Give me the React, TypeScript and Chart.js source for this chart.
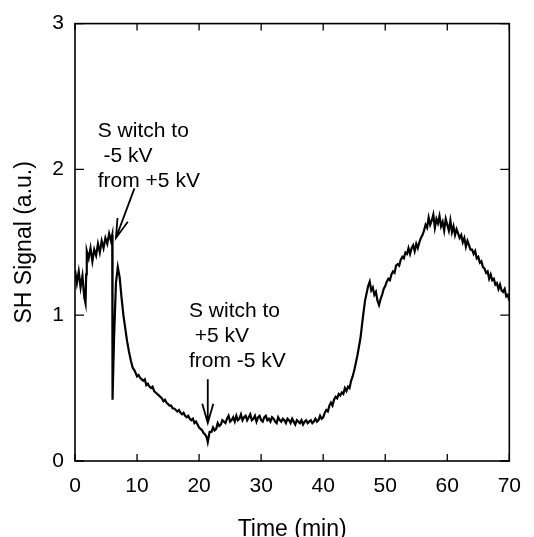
import React, { useEffect, useRef } from "react";
import { Chart, registerables } from "chart.js";

Chart.register(...registerables);

// Time (min)
const times = [
  0, 0.3, 0.6, 0.9, 1.2, 1.5, 1.7, 1.8, 1.9, 2.2,
  2.5, 2.8, 3.1, 3.4, 3.7, 4.0, 4.3, 4.6, 4.9, 5.2,
  5.5, 5.8, 6.0, 6.05, 6.3, 6.6, 6.9, 7.2, 7.5, 7.8,
  8.1, 8.4, 8.7, 9.0, 9.3, 9.6,
  10, 10.25, 10.5, 10.75, 11, 11.25, 11.5, 11.75,
  12, 12.25, 12.5, 12.75, 13, 13.25, 13.5, 13.75,
  14, 14.25, 14.5, 14.75, 15, 15.25, 15.5, 15.75,
  16, 16.25, 16.5, 16.75, 17, 17.25, 17.5, 17.75,
  18, 18.25, 18.5, 18.75, 19, 19.25, 19.5, 19.75,
  20, 20.25, 20.5, 20.75, 21, 21.25, 21.4, 21.7,
  22, 22.25, 22.5, 22.75, 23, 23.25, 23.5, 23.75,
  24, 24.25, 24.5, 24.75, 25, 25.25, 25.5, 25.75,
  26, 26.25, 26.5, 26.75, 27, 27.25, 27.5, 27.75,
  28, 28.25, 28.5, 28.75, 29, 29.25, 29.5, 29.75,
  30, 30.25, 30.5, 30.75, 31, 31.25, 31.5, 31.75,
  32, 32.25, 32.5, 32.75, 33, 33.25, 33.5, 33.75,
  34, 34.25, 34.5, 34.75, 35, 35.25, 35.5, 35.75,
  36, 36.25, 36.5, 36.75, 37, 37.25, 37.5, 37.75,
  38, 38.25, 38.5, 38.75, 39, 39.25, 39.5, 39.75,
  40, 40.25, 40.5, 40.75, 41, 41.25, 41.5, 41.75,
  42, 42.25, 42.5, 42.75, 43, 43.25, 43.5, 43.75,
  44, 44.25, 44.5, 44.75, 45, 45.25, 45.5, 45.75,
  46, 46.25, 46.5, 46.75, 47, 47.25, 47.5, 47.75,
  48, 48.25, 48.5, 48.75, 49, 49.25, 49.5, 49.75,
  50, 50.25, 50.5, 50.75, 51, 51.25, 51.5, 51.75,
  52, 52.25, 52.5, 52.75, 53, 53.25, 53.5, 53.75,
  54, 54.25, 54.5, 54.75, 55, 55.25, 55.5, 55.75,
  56, 56.25, 56.5, 56.75, 57, 57.25, 57.5, 57.75,
  58, 58.25, 58.5, 58.75, 59, 59.25, 59.5, 59.75,
  60, 60.25, 60.5, 60.75, 61, 61.25, 61.5, 61.75,
  62, 62.25, 62.5, 62.75, 63, 63.25, 63.5, 63.75,
  64, 64.25, 64.5, 64.75, 65, 65.25, 65.5, 65.75,
  66, 66.25, 66.5, 66.75, 67, 67.25, 67.5, 67.75,
  68, 68.25, 68.5, 68.75, 69, 69.25, 69.5, 69.75,
  70,
];

// SH Signal (a.u.)
const signal = [
  1.31, 1.22, 1.30, 1.19, 1.27, 1.12, 1.08, 1.28, 1.44, 1.39,
  1.46, 1.37, 1.45, 1.41, 1.49, 1.43, 1.51, 1.46, 1.53, 1.49,
  1.56, 1.51, 1.55, 0.42, 0.85, 1.22, 1.33, 1.26, 1.12, 1.00,
  0.91, 0.82, 0.75, 0.69, 0.64, 0.62,
  0.58, 0.59, 0.57, 0.56, 0.55, 0.56, 0.52, 0.53,
  0.51, 0.50, 0.51, 0.48, 0.47, 0.46, 0.45, 0.44,
  0.43, 0.41, 0.42, 0.40, 0.39, 0.38, 0.38, 0.36,
  0.36, 0.35, 0.34, 0.35, 0.33, 0.32, 0.33, 0.31,
  0.30, 0.31, 0.29, 0.28, 0.29, 0.26, 0.27, 0.25,
  0.23, 0.22, 0.21, 0.19, 0.18, 0.16, 0.13, 0.20,
  0.20, 0.23, 0.21, 0.22, 0.26, 0.24, 0.25, 0.28,
  0.27, 0.26, 0.29, 0.31, 0.27, 0.28, 0.30, 0.27,
  0.31, 0.28, 0.29, 0.32, 0.28, 0.30, 0.31, 0.28,
  0.30, 0.32, 0.28, 0.29, 0.31, 0.27, 0.30, 0.31,
  0.28, 0.27, 0.30, 0.31, 0.28, 0.29, 0.27, 0.30,
  0.29, 0.27, 0.26, 0.30, 0.28, 0.27, 0.29, 0.28,
  0.26, 0.29, 0.28, 0.26, 0.29, 0.27, 0.25, 0.28,
  0.27, 0.26, 0.28, 0.25, 0.27, 0.28, 0.26, 0.27,
  0.28, 0.26, 0.27, 0.29, 0.27, 0.28, 0.31, 0.29,
  0.30, 0.33, 0.35, 0.34, 0.38, 0.40, 0.38, 0.42,
  0.44, 0.43, 0.46, 0.45, 0.47, 0.46, 0.50, 0.48,
  0.51, 0.50, 0.55, 0.58, 0.62, 0.67, 0.72, 0.78,
  0.84, 0.93, 1.02, 1.10, 1.15, 1.20, 1.23, 1.17,
  1.19, 1.14, 1.16, 1.10, 1.07, 1.11, 1.14, 1.18,
  1.20, 1.23, 1.25, 1.24, 1.28, 1.30, 1.29, 1.34,
  1.35, 1.34, 1.38, 1.40, 1.39, 1.43, 1.42, 1.46,
  1.42, 1.46, 1.48, 1.44, 1.49, 1.46, 1.50, 1.53,
  1.55, 1.58, 1.62, 1.60, 1.67, 1.62, 1.65, 1.69,
  1.60, 1.66, 1.63, 1.68, 1.61, 1.64, 1.58, 1.66,
  1.62, 1.58, 1.65, 1.57, 1.61, 1.55, 1.59, 1.56,
  1.53, 1.55, 1.50, 1.53, 1.47, 1.51, 1.48, 1.45,
  1.45, 1.42, 1.44, 1.39, 1.40, 1.36, 1.37, 1.33,
  1.32, 1.29, 1.30, 1.25, 1.28, 1.24, 1.25, 1.21,
  1.22, 1.18, 1.21, 1.17, 1.16, 1.18, 1.13, 1.14,
  1.10,
];

const xTickValues = [0, 10, 20, 30, 40, 50, 60, 70];
const yTickValues = [0, 1, 2, 3];
const xTitle = "Time (min)";
const yTitle = "SH Signal (a.u.)";

const note1Lines = ["S witch to", " -5 kV", "from +5 kV"];
const note2Lines = ["S witch to", " +5 kV", "from -5 kV"];

const FONT = "'Liberation Sans', Arial, Helvetica, sans-serif";

const notes = [
  { x: 3.67, y: 2.336, lines: note1Lines },
  { x: 18.37, y: 1.097, lines: note2Lines },
];
const arrows = [
  { from: { x: 9.58, y: 1.87 }, to: { x: 6.6, y: 1.53 } },
  { from: { x: 21.4, y: 0.56 }, to: { x: 21.4, y: 0.26 } },
];

const framePlugin = {
  id: "frameAndNotes",
  afterDatasetsDraw(chart: any) {
    const { ctx, chartArea: a, scales } = chart;
    const xs = scales.x;
    const ys = scales.y;
    ctx.save();
    ctx.strokeStyle = "#000";
    ctx.lineWidth = 1.6;
    ctx.strokeRect(a.left, a.top, a.right - a.left, a.bottom - a.top);
    ctx.lineWidth = 1.3;
    ctx.beginPath();
    xs.ticks.forEach((t: any) => {
      const px = xs.getPixelForValue(t.value);
      ctx.moveTo(px, a.bottom);
      ctx.lineTo(px, a.bottom - 7);
      ctx.moveTo(px, a.top);
      ctx.lineTo(px, a.top + 7);
    });
    ys.ticks.forEach((t: any) => {
      const py = ys.getPixelForValue(t.value);
      ctx.moveTo(a.left, py);
      ctx.lineTo(a.left + 9, py);
      ctx.moveTo(a.right, py);
      ctx.lineTo(a.right - 9, py);
    });
    ctx.stroke();

    ctx.fillStyle = "#000";
    ctx.font = `21px ${FONT}`;
    ctx.textAlign = "left";
    ctx.textBaseline = "top";
    notes.forEach((n) => {
      const px = xs.getPixelForValue(n.x);
      const py = ys.getPixelForValue(n.y);
      n.lines.forEach((l, i) => ctx.fillText(l, px, py + i * 25));
    });

    ctx.lineWidth = 1.8;
    arrows.forEach((ar) => {
      const x1 = xs.getPixelForValue(ar.from.x);
      const y1 = ys.getPixelForValue(ar.from.y);
      const x2 = xs.getPixelForValue(ar.to.x);
      const y2 = ys.getPixelForValue(ar.to.y);
      const ang = Math.atan2(y2 - y1, x2 - x1);
      const hl = 20;
      const ha = (16 * Math.PI) / 180;
      ctx.beginPath();
      ctx.moveTo(x1, y1);
      ctx.lineTo(x2, y2);
      ctx.moveTo(x2 - hl * Math.cos(ang - ha), y2 - hl * Math.sin(ang - ha));
      ctx.lineTo(x2, y2);
      ctx.lineTo(x2 - hl * Math.cos(ang + ha), y2 - hl * Math.sin(ang + ha));
      ctx.stroke();
    });
    ctx.restore();
  },
};

export default function App() {
  const ref = useRef<HTMLCanvasElement>(null);
  useEffect(() => {
    if (!ref.current) return;
    const points = times.map((t, i) => ({ x: t, y: signal[i] }));
    const chart = new Chart(ref.current, {
      type: "line",
      data: {
        datasets: [
          {
            data: points,
            borderColor: "#000",
            borderWidth: 2.2,
            pointRadius: 0,
            tension: 0,
            fill: false,
          },
        ],
      },
      options: {
        animation: false,
        responsive: true,
        maintainAspectRatio: false,
        layout: { padding: { left: 0, right: 21, top: 18, bottom: 0 } },
        plugins: { legend: { display: false }, tooltip: { enabled: false } },
        scales: {
          x: {
            type: "linear",
            min: 0,
            max: 70,
            afterBuildTicks: (s: any) => {
              s.ticks = xTickValues.map((v) => ({ value: v }));
            },
            afterFit: (s: any) => {
              s.height = 76;
            },
            grid: { display: false, drawTicks: false },
            border: { display: false },
            ticks: {
              color: "#000",
              padding: 13,
              maxRotation: 0,
              font: { family: FONT, size: 21 },
            },
            title: {
              display: true,
              text: xTitle,
              color: "#000",
              padding: 0,
              font: { family: FONT, size: 23, lineHeight: 0.6 },
            },
          },
          y: {
            type: "linear",
            min: 0,
            max: 3,
            afterBuildTicks: (s: any) => {
              s.ticks = yTickValues.map((v) => ({ value: v }));
            },
            afterFit: (s: any) => {
              s.width = 75;
            },
            grid: { display: false, drawTicks: false },
            border: { display: false },
            ticks: {
              color: "#000",
              padding: 11,
              font: { family: FONT, size: 21 },
            },
            title: {
              display: true,
              text: yTitle,
              color: "#000",
              padding: { top: 11, bottom: 0 },
              font: { family: FONT, size: 23 },
            },
          },
        },
      },
      plugins: [framePlugin],
    });
    return () => chart.destroy();
  }, []);
  return (
    <div style={{ position: "fixed", left: 0, top: 0, width: 534, height: 537, background: "#fff" }}>
      <canvas ref={ref} />
    </div>
  );
}
